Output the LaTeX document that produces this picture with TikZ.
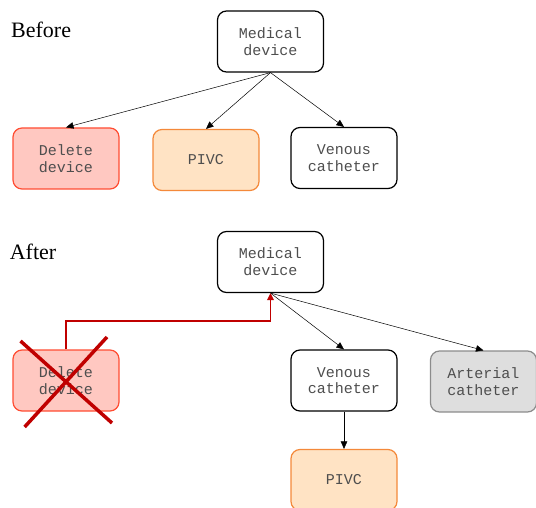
\documentclass[tikz,border=0pt]{standalone}
\usepackage{fontspec}
\setmainfont{Liberation Serif}
\newfontfamily\boxfont{Liberation Mono}
\usetikzlibrary{arrows.meta,calc}
\definecolor{delfill}{HTML}{FFC8C1}
\definecolor{deldraw}{HTML}{FF4D33}
\definecolor{pivcfill}{HTML}{FFE3C4}
\definecolor{pivcdraw}{HTML}{F4893A}
\definecolor{artfill}{HTML}{DEDEDE}
\definecolor{artdraw}{HTML}{8C8C8C}
\definecolor{txtgray}{HTML}{4E4E4E}
\definecolor{darkred}{HTML}{C00000}
\tikzset{
  devbox/.style={draw, rounded corners=9pt, line width=1.2pt, minimum width=106pt, minimum height=61pt,
    align=center, text=txtgray, font=\boxfont\fontsize{15}{16.7}\selectfont, inner sep=0pt},
  plainbox/.style={devbox, draw=black, fill=white},
  delbox/.style={devbox, draw=deldraw, fill=delfill},
  pivcbox/.style={devbox, draw=pivcdraw, fill=pivcfill},
  artbox/.style={devbox, draw=artdraw, fill=artfill},
  conn/.style={draw=black, line width=0.5pt, -{Triangle[length=7.5pt,width=6.5pt]}},
  redconn/.style={draw=darkred, line width=1.8pt, -{Triangle[length=7pt,width=6.5pt]}},
  crossline/.style={draw=darkred, line width=3.5pt},
  heading/.style={font=\fontsize{22}{26}\selectfont, anchor=base west, inner sep=0pt}
}
\begin{document}
\begin{tikzpicture}[x=1pt,y=-1pt]
\useasboundingbox (0,0) rectangle (536,508);
% Before
\node[heading] (before) at (11,37.6) {Before};
\node[plainbox] (med1) at (270.5,41.5) {Medical\\device};
\node[delbox] (del1) at (66,158.5) {Delete\\device};
\node[pivcbox] (pivc1) at (206,160) {PIVC};
\node[plainbox] (ven1) at (344,158) {Venous\\catheter};
\draw[conn] (med1.south) -- (del1.north);
\draw[conn] (med1.south) -- (pivc1.north);
\draw[conn] (med1.south) -- (ven1.north);
% After
\node[heading] (after) at (9.6,259.6) {After};
\node[plainbox] (med2) at (270.5,262) {Medical\\device};
\node[delbox] (del2) at (66,380.5) {Delete\\device};
\node[plainbox] (ven2) at (344,380.5) {Venous\\catheter};
\node[artbox] (art2) at (483.5,381.5) {Arterial\\catheter};
\node[pivcbox] (pivc2) at (344,480) {PIVC};
\draw[conn] (med2.south) -- (ven2.north);
\draw[conn] (med2.south) -- (art2.north);
\draw[conn] (ven2.south) -- (pivc2.north);
\coordinate (bend) at (0,321);
\draw[redconn] (del2.north) -- (del2.north |- bend) -| (med2.south);
\coordinate (c1a) at (20.5,341);
\coordinate (c1b) at (112,423);
\coordinate (c2a) at (107,337);
\coordinate (c2b) at (24.6,427);
\draw[crossline] (c1a) -- (c1b);
\draw[crossline] (c2a) -- (c2b);
\end{tikzpicture}
\end{document}
